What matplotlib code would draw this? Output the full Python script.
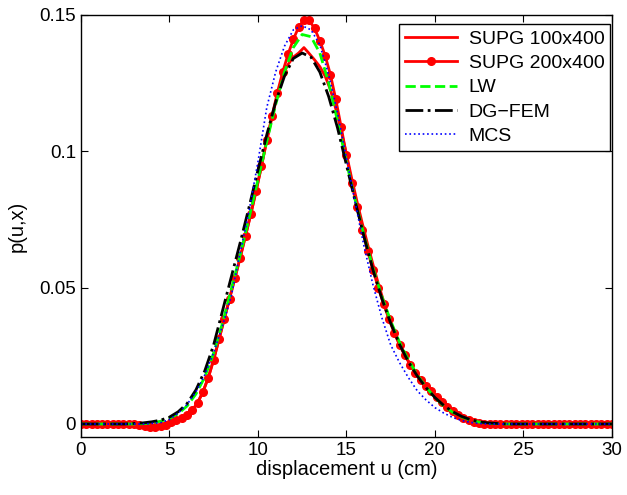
import numpy as np
import matplotlib
matplotlib.use("Agg")
import matplotlib.pyplot as plt

plt.rcParams['font.family'] = ['Liberation Sans', 'DejaVu Sans']

# fine grid (0.3 cm) for the SUPG results
u_fine = np.round(np.arange(0, 101) * 0.3, 2)
supg200 = [
    0, 0, 0, 0, 0, 0, 0, 0, 0, 0,
    0.0000, -0.0003, -0.0007, -0.0010, -0.0011, -0.0008, -0.0002, 0.0006, 0.0016, 0.0022,
    0.0032, 0.0050, 0.0078, 0.0118, 0.0170, 0.0235, 0.0310, 0.0385, 0.0460, 0.0535,
    0.0610, 0.0690, 0.0770, 0.0855, 0.0945, 0.1040, 0.1130, 0.1215, 0.1290, 0.1355,
    0.1410, 0.1455, 0.1482, 0.1480, 0.1450, 0.1405, 0.1350, 0.1280, 0.1190, 0.1090,
    0.0985, 0.0885, 0.0795, 0.0712, 0.0635, 0.0565, 0.0500, 0.0440, 0.0385, 0.0335,
    0.0290, 0.0252, 0.0218, 0.0188, 0.0162, 0.0140, 0.0120, 0.0100, 0.0080, 0.0062,
    0.0046, 0.0033, 0.0022, 0.0013, 0.0007, 0.0003, 0.0001, 0, 0, 0,
    0, 0, 0, 0, 0, 0, 0, 0, 0, 0,
    0, 0, 0, 0, 0, 0, 0, 0, 0, 0,
    0,
]
supg100 = [
    0, 0, 0, 0, 0, 0, 0, 0, 0, 0,
    0.0000, -0.0002, -0.0005, -0.0007, -0.0007, -0.0004, 0.0001, 0.0008, 0.0017, 0.0023,
    0.0033, 0.0051, 0.0079, 0.0119, 0.0171, 0.0236, 0.0310, 0.0385, 0.0460, 0.0535,
    0.0610, 0.0690, 0.0770, 0.0855, 0.0945, 0.1040, 0.1125, 0.1205, 0.1280, 0.1318,
    0.1345, 0.1360, 0.1380, 0.1358, 0.1335, 0.1310, 0.1275, 0.1225, 0.1155, 0.1075,
    0.0990, 0.0900, 0.0815, 0.0735, 0.0658, 0.0585, 0.0515, 0.0450, 0.0390, 0.0338,
    0.0292, 0.0253, 0.0219, 0.0189, 0.0163, 0.0141, 0.0121, 0.0101, 0.0081, 0.0063,
    0.0047, 0.0034, 0.0023, 0.0014, 0.0008, 0.0004, 0.0001, 0, 0, 0,
    0, 0, 0, 0, 0, 0, 0, 0, 0, 0,
    0, 0, 0, 0, 0, 0, 0, 0, 0, 0,
    0,
]

# coarse grid (0.5 cm) for the other methods
u_coarse = np.arange(0, 61) * 0.5
lw_vals = [
    0, 0, 0, 0, 0, 0, 0, 0.0001, 0.0004, 0.0010,
    0.0020, 0.0038, 0.0066, 0.0110, 0.0172, 0.0260, 0.0370, 0.0495, 0.0620, 0.0755,
    0.0895, 0.1035, 0.1170, 0.1290, 0.1380, 0.1428, 0.1420, 0.1360, 0.1250, 0.1110,
    0.0960, 0.0820, 0.0690, 0.0572, 0.0468, 0.0378, 0.0300, 0.0235, 0.0180, 0.0135,
    0.0097, 0.0066, 0.0043, 0.0026, 0.0014, 0.0007, 0.0003, 0.0001, 0, 0,
    0, 0, 0, 0, 0, 0, 0, 0, 0, 0,
    0,
]
dg_vals = [
    0, 0, 0, 0, 0, 0, 0.0002, 0.0004, 0.0008, 0.0014,
    0.0025, 0.0045, 0.0075, 0.0125, 0.0195, 0.0290, 0.0415, 0.0540, 0.0665, 0.0795,
    0.0930, 0.1060, 0.1180, 0.1275, 0.1340, 0.1360, 0.1345, 0.1290, 0.1200, 0.1085,
    0.0950, 0.0815, 0.0685, 0.0565, 0.0460, 0.0370, 0.0292, 0.0228, 0.0176, 0.0133,
    0.0097, 0.0068, 0.0045, 0.0028, 0.0016, 0.0008, 0.0004, 0.0002, 0, 0,
    0, 0, 0, 0, 0, 0, 0, 0, 0, 0,
    0,
]
mcs_vals = [
    0, 0, 0, 0, 0, 0, 0, 0, 0.0002, 0.0005,
    0.0016, 0.0040, 0.0072, 0.0118, 0.0180, 0.0262, 0.0360, 0.0470, 0.0630, 0.0780,
    0.0960, 0.1160, 0.1290, 0.1385, 0.1445, 0.1460, 0.1445, 0.1390, 0.1280, 0.1140,
    0.0975, 0.0810, 0.0650, 0.0510, 0.0390, 0.0290, 0.0225, 0.0170, 0.0122, 0.0088,
    0.0060, 0.0040, 0.0024, 0.0013, 0.0006, 0.0002, 0, 0, 0, 0,
    0, 0, 0, 0, 0, 0, 0, 0, 0, 0,
    0,
]

fig = plt.figure(figsize=(6.27, 4.95), dpi=100)
ax = fig.add_axes([0.129, 0.117, 0.847, 0.853])

ax.plot(u_fine, supg100, '-', color='red', lw=2.0, label='SUPG 100x400')
ax.plot(u_fine, supg200, '-o', color='red', lw=2.0, ms=5.5, label='SUPG 200x400')
ax.plot(u_coarse, lw_vals, '--', color=(0, 1, 0), lw=2.0, label='LW')
ax.plot(u_coarse, dg_vals, '-.', color='black', lw=2.0, label='DG\u2212FEM')
ax.plot(u_coarse, mcs_vals, ':', color='blue', lw=1.2, label='MCS')

ax.set_xlim(0, 30)
ax.set_ylim(-0.0048, 0.15)
ax.set_xticks([0, 5, 10, 15, 20, 25, 30])
ax.set_yticks([0, 0.05, 0.1, 0.15])
ax.set_yticklabels(['0', '0.05', '0.1', '0.15'])
ax.tick_params(direction='in', top=True, right=True, length=5, labelsize=13.5)
for s in ax.spines.values():
    s.set_linewidth(1.0)

ax.set_xlabel('displacement u (cm)', fontsize=14.5, labelpad=1)
ax.set_ylabel('p(u,x)', fontsize=14.5, labelpad=9)

leg = ax.legend(loc='upper right', bbox_to_anchor=(0.997, 0.978), borderaxespad=0,
                fontsize=14, fancybox=False, edgecolor='black', framealpha=1,
                handlelength=2.7, handletextpad=0.6, labelspacing=0.35, borderpad=0.3)
leg.get_frame().set_linewidth(1.0)

fig.savefig('out.png', dpi=100)
